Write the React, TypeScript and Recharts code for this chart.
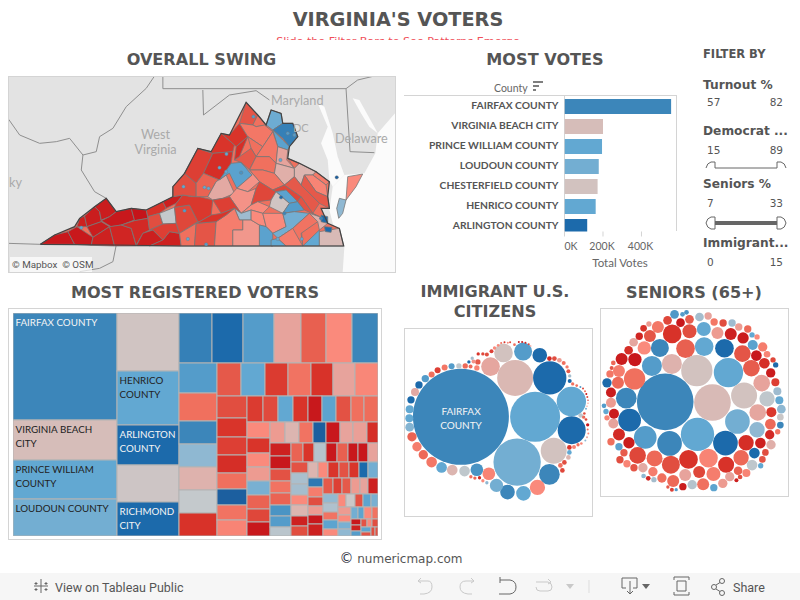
import React from 'react';
import { Bar, BarChart, Cell, Scatter, ScatterChart, Treemap, XAxis, YAxis, ZAxis, Rectangle } from 'recharts';

const HEAD = '"DejaVu Sans", sans-serif';
const BOOK = 'Lato, "Open Sans", sans-serif';

// most votes
const barCounties = ['FAIRFAX COUNTY', 'VIRGINIA BEACH CITY', 'PRINCE WILLIAM COUNTY', 'LOUDOUN COUNTY', 'CHESTERFIELD COUNTY', 'HENRICO COUNTY', 'ARLINGTON COUNTY'];
const barVotes = [554000, 200000, 195000, 178000, 172000, 162000, 118000];
const barSwing = [42, -5, 22, 19, -3, 22, 55];
const voteTicks = [0, 200000, 400000];

// registered voters, in the order the tiles are laid out
const treeSizes = [
  100453, 37320, 36387, 33899,
  32351, 30294, 22440, 20757, 19261,
  15049, 13857, 13857, 12218, 11026, 11771, 11175,
  10146, 9576, 7866, 7866, 7866, 7866, 7980,
  7252, 7154, 6958, 6762, 6468, 6566, 6174,
  5874, 5162, 4984, 4895, 4183, 4272, 4094, 4005,
  3822, 3432, 3588, 3432, 3276, 3354, 3432, 3120, 3276,
  3381, 3036, 2898, 2898, 2898, 2898, 2760, 2898,
  2752, 2688, 2688, 2496, 2624, 2496, 2560, 2496,
  2432, 2368, 2176, 2240, 2304, 2112, 2048, 2176,
  2052, 1881, 2052, 1824, 1938, 1710, 1653, 1767,
  1632, 1734, 1683, 1479, 1734, 1530, 1530,
  1392, 1488, 1584, 1392, 1440, 1296, 1488,
  1276, 1364, 1232, 1232, 1276, 1276,
  1457, 1269, 1363, 1316, 1128, 1269,
  1150, 1242, 1104, 1242, 1104,
  920, 1000, 960, 920, 1000,
  950, 760, 760, 836,
  770, 665, 840, 595,
  570, 510, 480,
  432, 360, 456,
  450, 390,
  336, 280,
];
const treeSwing = [
  42, -5, 22, 19,
  -2, 22, 55, -1, 55,
  45, 55, 28, -14, -33, -20, 42,
  28, -28, 42, 14, -9, 2, -46,
  -35, 22, -43, -27, -46, -14, -21,
  -38, -45, -42, -48, -28, 60, -27, -22,
  -43, -39, 22, -45, -58, 24, -37, -28, -29,
  -20, -45, -20, -16, 18, -32, -40, -58,
  -16, -8, -27, 60, -58, -14, -15, -48,
  -54, -58, -37, -27, -32, 32, 28, 4,
  -32, -45, 5, -58, -33, -58, -58, -14,
  -37, 7, 8, -20, -8, -54, -38,
  -8, -20, -45, -37, -45, 55, 19,
  48, -24, -38, -16, -58, -54,
  -35, -42, -35, -16, -14, -54,
  13, 6, -27, 24, -20,
  -20, 0, -37, 24, 18,
  -16, -20, 18, 14,
  19, 24, -20, -27,
  -58, -54, 28,
  -37, -20, -38,
  24, -37,
  -38, -37,
];
const treeLabels: Record<number, string[]> = {
  0: ['FAIRFAX COUNTY'],
  1: ['VIRGINIA BEACH', 'CITY'],
  2: ['PRINCE WILLIAM', 'COUNTY'],
  3: ['LOUDOUN COUNTY'],
  5: ['HENRICO', 'COUNTY'],
  6: ['ARLINGTON', 'COUNTY'],
  8: ['RICHMOND', 'CITY'],
};

// [x, y, radius, swing]
const immigrantBubbles = [
  [184,412,144,42],[407,412,75,22],[353,548,71,19],[347,295,54,-7],[451,295,50,55],[516,366,44,22],[517,452,42,55],[463,514,39,-3],
  [450,585,31,42],[414,624,23,-20],[372,642,22,22],[324,638,22,42],[291,618,20,19],[268,583,19,-22],[232,571,19,32],[195,575,16,3],
  [158,572,16,-8],[126,564,16,22],[96,548,16,-26],[71,526,14,-30],[52,502,14,-24],[37,472,14,-32],[30,443,13,16],[29,416,12,22],
  [30,389,12,22],[34,361,11,55],[46,337,12,-12],[58,316,11,55],[77,297,11,28],[96,285,9,-28],[114,272,9,-42],[135,264,9,-26],
  [156,260,9,28],[178,259,8,3],[197,259,8,-30],[213,261,6,-30],[232,265,8,-22],[273,261,28,-13],[312,220,28,-3],[371,216,27,28],
  [421,227,22,55],[235,247,8,-35],[222,246,6,-18],[208,247,5,55],[218,236,5,8],[236,223,5,-45],[250,223,5,-40],[262,225,6,-38],
  [276,215,6,-42],[285,205,5,-20],[296,197,4,-20],[305,190,3,-28],[315,188,3,-45],[325,189,3,-20],[332,188,3,-40],[345,195,4,-28],
  [358,187,3,-58],[368,187,3,-58],[378,189,3,-50],[388,194,3,-40],[394,199,2,-20],[450,237,7,-50],[465,237,7,-38],[480,242,7,-16],
  [493,250,6,-28],[503,262,5,-25],[507,275,6,-35],[511,289,5,8],[511,304,6,55],[520,313,5,-28],[532,318,4,-28],[543,322,3,28],
  [551,327,3,-40],[557,335,3,-28],[561,343,3,-58],[564,352,3,-40],[566,362,2,-58],[566,371,2,-20],[563,380,2,-20],[560,388,3,18],
  [544,408,7,3],[553,413,5,-30],[555,402,4,-38],[560,420,4,-40],[565,436,5,-58],[565,450,3,-28],[567,462,3,-20],[563,473,3,-14],
  [558,483,3,14],[546,492,4,-22],[536,496,5,-28],[524,503,6,-22],[510,504,7,-45],[510,519,7,22],[507,534,7,-8],[495,549,7,-38],
  [483,558,7,-28],[489,573,7,-40],[214,592,5,-28],[226,596,5,-30],[240,595,5,-48],[250,604,5,-20],[262,610,5,14],
];
const seniorBubbles = [
  [797,367,85,42],[939,369,55,-6],[892,273,47,-3],[987,279,44,22],[894,465,50,22],[1034,348,39,-3],[1014,426,37,19],[978,491,37,55],
  [810,492,37,42],[737,474,34,28],[690,422,34,55],[680,356,31,42],[705,298,32,-28],[757,259,30,28],[817,253,30,-9],[781,205,27,42],
  [734,205,20,-20],[858,207,28,-33],[914,201,28,22],[975,206,28,55],[1029,222,25,-36],[913,148,21,22],[954,160,18,-16],[818,163,28,-46],
  [870,155,21,-38],[1056,266,25,-34],[1087,311,25,-14],[1103,358,23,3],[1075,399,25,-13],[1073,451,23,14],[1040,490,23,-48],[1083,491,16,-54],
  [1065,521,16,55],[1025,535,23,-30],[980,556,24,-46],[927,536,28,-22],[867,540,28,-46],[814,556,27,-38],[765,537,24,-30],[714,528,25,-40],
  [688,490,17,-56],[658,465,18,-50],[641,432,15,-14],[643,403,15,-56],[634,370,15,-16],[634,339,15,-56],[622,310,14,55],[655,310,18,-30],
  [658,274,18,-24],[631,283,11,-26],[666,238,18,-56],[706,240,20,-58],[641,250,7,-30],[636,265,6,-36],[687,212,13,-48],[702,188,13,-13],
  [719,170,11,-52],[751,169,18,-36],[732,146,10,-46],[748,133,8,-16],[775,142,18,-26],[804,122,13,-40],[825,104,13,30],[849,104,7,28],
  [861,98,7,32],[843,129,13,-58],[870,119,13,-34],[900,112,13,8],[926,109,11,-14],[944,127,11,-26],[971,130,11,-38],[998,130,11,10],
  [1018,142,11,-16],[1045,148,11,-30],[994,163,18,-54],[1031,175,17,-56],[1058,166,8,22],[1073,172,8,-20],[1060,196,15,25],[1090,202,14,-24],
  [1103,224,10,-22],[1071,228,16,-58],[1095,251,16,-48],[1121,241,8,-40],[1129,256,8,55],[1114,280,14,-56],[1128,308,12,-42],[1134,335,12,10],
  [1140,362,12,22],[1146,389,13,14],[1116,398,15,-44],[1143,413,10,0],[1143,437,10,42],[1113,434,16,-30],[1135,457,8,-26],[1111,466,14,-50],
  [1115,496,14,-10],[1098,519,10,-38],[1089,540,10,-36],[1084,559,8,22],[1058,557,16,3],[1041,581,12,-22],[1016,574,13,-32],[1022,593,7,-38],
  [991,592,14,-14],[1011,603,6,-55],[970,612,14,-16],[943,625,11,24],[911,615,18,-28],[942,584,21,-24],[899,578,18,-40],[857,587,18,-14],
  [878,616,14,5],[850,622,11,-56],[821,605,18,-30],[805,623,5,-35],[817,631,6,-42],[830,631,5,28],[787,596,14,-28],[763,601,8,8],
  [746,597,7,-52],[732,590,7,14],[760,577,14,-24],[730,565,14,-12],[703,565,11,-36],[682,553,11,-22],[661,541,11,-38],[673,520,11,-34],
  [658,502,11,25],[634,487,11,-28],[622,415,8,-22],[619,396,8,22],[613,379,7,28],
];

// state and county outlines on the map, flat x,y lists
const stateShape = [
  122,733,165,705,225,680,240,655,285,620,320,595,350,635,395,625,440,630,490,605,520,590,520,560,555,520,595,445,635,455,665,400,690,405,
  740,307,775,345,800,375,815,330,845,340,850,370,880,370,895,410,870,440,865,475,900,490,950,515,990,545,985,590,990,625,965,625,985,670,
  1020,685,1033,738,545,738,350,735,
];
const countyShapes: number[][] = [
  [122,733,165,705,205,695,225,733],
  [205,695,232,680,280,712,275,736,225,733],
  [232,680,240,655,255,648,262,680],
  [255,648,285,620,300,635,305,665,262,680],
  [285,620,320,595,350,635,330,650,305,660,300,635],
  [262,680,305,665,330,680,280,712],
  [330,650,350,635,395,625,405,660,365,675,335,680,305,662],
  [395,625,440,630,445,655,405,662],
  [280,712,330,680,345,738,275,736],
  [330,680,365,675,395,685,410,738,345,738],
  [365,675,405,662,445,655,450,690,430,700,410,735,395,685],
  [410,738,430,700,460,690,490,720,450,738],
  [450,738,490,720,510,695,540,700,545,738],
  [440,630,490,605,500,625,480,640,445,650],
  [490,605,520,590,550,585,530,610,500,625],
  [445,650,480,640,490,672,450,690],
  [480,640,525,622,530,670,490,672],
  [490,672,530,670,540,700,510,695,490,720,460,690,450,690],
  [525,622,570,615,595,665,540,700,530,670],
  [540,700,590,670,585,738,545,738],
  [590,670,650,665,645,738,585,738],
  [550,585,575,590,600,590,640,600,635,645,600,665,595,665,570,615,525,622,530,610],
  [520,560,555,520,590,550,590,590,550,585,520,590],
  [555,520,595,445,640,460,612,520,590,550],
  [595,445,635,455,665,400,705,435,700,455,640,460],
  [640,460,700,455,695,490,660,540,612,520],
  [612,520,660,540,650,545,625,590,590,590,590,550],
  [650,545,680,525,705,580,670,595,640,600,625,590],
  [695,490,725,487,758,525,712,565,690,520,680,525,660,540],
  [665,400,690,405,720,370,745,410,710,440,705,435],
  [720,370,740,307,775,345,760,375],
  [775,345,800,375,770,380,760,375],
  [760,375,770,380,795,375,820,395,790,440,745,410,720,370],
  [745,410,720,470,705,480,710,440],
  [745,410,790,440,770,470,755,445],
  [800,375,815,330,845,340,850,370,820,390],
  [850,370,880,370,895,410,870,440,850,415,820,390],
  [820,390,850,420,870,440,865,450,835,440],
  [790,440,820,395,835,440,830,490,810,470,770,470],
  [705,480,720,470,755,445,770,470,750,510,725,487],
  [770,470,810,470,830,490,825,520,790,510,750,510],
  [835,440,865,450,862,480,885,505,830,490],
  [865,475,900,490,885,505],
  [830,490,885,505,885,530,855,555,825,520],
  [885,505,900,490,950,515,940,525,915,525,905,555,885,530],
  [950,515,990,545,980,555,940,525],
  [915,525,940,525,980,555,985,590,950,575],
  [905,555,915,525,950,575,985,590,990,625,960,610],
  [750,510,790,510,825,520,855,555,820,570,780,545],
  [725,487,750,510,780,545,745,575,712,565,758,525],
  [712,565,745,575,770,565,755,615,725,640,690,590],
  [670,595,690,590,725,640,705,625,665,640,640,600],
  [820,570,855,555,905,590,890,610,860,570,830,575],
  [855,555,885,530,905,555,960,610,940,640,905,590],
  [770,565,780,545,820,570,830,575,815,600,775,605,755,615],
  [815,600,830,575,870,610,850,640,810,620],
  [830,575,860,570,895,605,870,610],
  [870,610,895,605,915,630,885,635,850,640],
  [895,605,905,590,940,640,960,650,915,630],
  [725,640,755,615,775,605,810,620,790,640,755,630],
  [705,625,725,640,755,630,755,660,720,660],
  [650,665,680,645,705,625,720,660,730,660,730,690,700,690,700,738,645,738],
  [700,690,730,690,730,660,755,660,780,675,780,738,700,738],
  [755,630,790,640,800,680,780,675,755,660],
  [790,640,850,640,860,680,820,700,800,680],
  [780,675,800,680,820,700,820,738,780,738],
  [820,700,860,680,850,640,885,635,930,640,880,685,835,715],
  [815,720,835,715,860,738,815,738],
  [835,715,880,685,905,680,910,738,860,738],
  [880,685,930,640,955,665,905,700,910,738],
  [910,738,960,690,960,738],
  [960,695,1020,685,1033,738,960,738],
  [930,640,960,650,985,670,960,690,955,665],
  [600,665,635,645,665,640,705,625,680,645,650,665,590,670],
  [965,645,985,650,985,670,965,665],
  [975,680,998,682,995,697,978,695],
  [1045,530,1090,522,1070,560,1040,600],
  [1020,595,1040,600,1030,640,1018,655,1012,625],
];
const countySwing = [
  -58,-58,-54,-56,-56,-56,-58,-60,-54,-52,-50,-55,-54,-46,-55,-38,2,-42,-40,-28,-36,-44,-38,-42,
  -45,-48,-32,-12,25,-45,-36,-28,-26,-48,-28,20,45,25,-26,-35,-28,-14,-28,-10,-8,-25,-22,-35,-27,
  -18,-18,-42,-40,-35,-40,-2,25,28,-37,-20,10,-24,-17,-20,-20,25,19,22,-24,-27,22,-6,-10,-45,55,55,-20,14,
];
const cityDots = [
  [762,350,28],[865,400,28],[885,405,28],[681,462,22],[660,503,22],[680,515,22],[725,518,32],[552,560,22],[615,562,22],[627,565,22],
  [555,632,28],[845,592,55],[855,640,42],[965,655,42],[245,683,22],[835,717,22],[907,717,22],[565,717,22],[620,733,28],[1012,532,60],[843,480,22],
];
const waterShapes: number[][] = [
  [1187,340,1135,400,1128,460,1095,520,1035,525,1000,560,990,630,1000,670,1035,740,1030,816,1187,816],
  [955,310,975,320,1000,400,1015,470,1035,525,1000,560,990,540,985,480,965,430,985,380],
  [1060,295,1080,300,1130,390,1135,400,1110,380,1085,340],
];
const borderLines: number[][] = [
  [27,358,60,405,120,430,170,425,210,415,250,465,290,455,300,410,340,385,380,320,440,265,465,228],
  [250,465,245,510,285,575,320,595],
  [490,228,490,266,1040,266,1052,455,1125,458],
  [610,270,612,345,690,285,770,272,810,300],
  [1040,266,1075,240,1125,228],
  [25,730,122,733],
  [350,735,340,785,300,805,240,815],
];

const swingStops: [number, string][] = [
  [-60, '#c5141a'], [-45, '#d9342a'], [-35, '#e5594a'], [-28, '#f0705e'], [-20, '#fa8a7c'], [-14, '#e7a39c'], [-8, '#dcb5b0'],
  [-2, '#d0c4c2'], [2, '#c4c9cc'], [8, '#a5bdcd'], [14, '#8fb8d2'], [22, '#62a8d2'], [32, '#4a94c4'], [42, '#3c86ba'], [55, '#1c6aab'], [60, '#1c5f9f'],
];
function swingColor(v: number) {
  if (v <= swingStops[0][0]) return swingStops[0][1];
  for (let i = 1; i < swingStops.length; i++) {
    const [b, cb] = swingStops[i];
    const [a, ca] = swingStops[i - 1];
    if (v <= b) {
      const t = (v - a) / (b - a);
      const mix = [1, 3, 5].map(k => {
        const p = parseInt(ca.slice(k, k + 2), 16);
        const q = parseInt(cb.slice(k, k + 2), 16);
        return Math.round(p + (q - p) * t);
      });
      return `rgb(${mix.join(',')})`;
    }
  }
  return swingStops[swingStops.length - 1][1];
}

const barData = barCounties.map((name, i) => ({ name, votes: barVotes[i], swing: barSwing[i] }));
const treeData = treeSizes.map((size, i) => ({ name: String(i), size, swing: treeSwing[i], label: treeLabels[i] }));
const cityData = cityDots.map(([x, y, swing]) => ({ x, y, swing }));
const toPoints = (flat: number[], close = true) => {
  const pts = [];
  for (let i = 0; i < flat.length; i += 2) pts.push({ x: flat[i], y: flat[i + 1] });
  if (close) pts.push(pts[0]);
  return pts;
};
const bubbleRows = (rows: number[][]) => rows.map(([x, y, r, swing]) => ({ x, y, z: r * r, swing }));

const noDot = () => <g />;
const cityDot = (p: any) => <circle cx={p.cx} cy={p.cy} r={1.7} fill={swingColor(p.payload.swing)} stroke="#777" strokeWidth={0.4} />;

function Txt({ x, y, w, align = 'left', size = 12, weight = 400, color = '#555', font = HEAD, children }: any) {
  return (
    <div style={{ position: 'absolute', left: x, top: y - size, width: w, height: size * 2, lineHeight: `${size * 2}px`, textAlign: align, fontSize: size, fontWeight: weight, color, fontFamily: font, whiteSpace: 'nowrap' }}>
      {children}
    </div>
  );
}

function TreeCell(props: any) {
  const { x, y, width, height, swing, label, depth } = props;
  if (depth === 0 || swing === undefined) return <g />;
  const light = swing > 40;
  return (
    <g>
      <rect x={x} y={y} width={width} height={height} fill={swingColor(swing)} stroke="#b3b3b3" strokeWidth={1} />
      {(label || []).map((line: string, i: number) => (
        <text key={line} x={x + 2.5} y={y + 13 + i * 14} fontSize={9.8} fontFamily={BOOK} fill={light ? '#f4f4f4' : '#222'} stroke="none">
          {line}
        </text>
      ))}
    </g>
  );
}

function CountyTick({ y, payload }: any) {
  return (
    <text x={158.5} y={y + 2.5} textAnchor="end" fontSize={10.3} fontFamily={BOOK} fontWeight={700} fill="#555">
      {payload.value}
    </text>
  );
}

function VoteTick({ x, y, payload }: any) {
  return (
    <text x={payload.value === 0 ? x + 6.5 : x - 1} y={y + 11} textAnchor="middle" fontSize={10.5} fontFamily={BOOK} fill="#666">
      {`${payload.value / 1000}K`}
    </text>
  );
}

function BubblePack({ rows, box }: { rows: number[][]; box: [number, number] }) {
  const data = bubbleRows(rows);
  return (
    <div style={{ position: 'absolute', left: -1, top: -1 }}>
      <ScatterChart width={187} height={187} margin={{ top: 0, right: 0, bottom: 0, left: 0 }}>
        <XAxis type="number" dataKey="x" hide domain={[box[0], box[0] + 562]} />
        <YAxis type="number" dataKey="y" hide reversed domain={[box[1], box[1] + 562]} />
        <ZAxis type="number" dataKey="z" domain={[0, 21000]} range={[0, 7330]} />
        <Scatter data={data} isAnimationActive={false}>
          {data.map((d, i) => <Cell key={i} fill={swingColor(d.swing)} />)}
        </Scatter>
      </ScatterChart>
    </div>
  );
}

function Slider({ y, thick }: { y: number; thick?: boolean }) {
  return (
    <svg style={{ position: 'absolute', left: 704, top: y - 8, overflow: 'visible' }} width={84} height={14}>
      <line x1={11} x2={73} y1={7} y2={7} stroke="#666" strokeWidth={thick ? 4 : 1} />
      <path d="M11 7 V1 H7 Q3 2 2 7" fill="none" stroke="#666" />
      <path d="M73 7 V1 H77 Q81 2 82 7" fill="none" stroke="#666" />
      {thick && <path d="M2 7 Q3 12 7 13 H11 V7 M82 7 Q81 12 77 13 H73 V7" fill="none" stroke="#666" />}
    </svg>
  );
}

function Toolbar() {
  const s = { fill: 'none', stroke: '#c9c9c9', strokeWidth: 1 };
  const d = { fill: 'none', stroke: '#666', strokeWidth: 1 };
  return (
    <div style={{ position: 'absolute', left: 0, top: 573, width: 800, height: 27, background: '#f6f6f6' }}>
      <svg width={800} height={27} style={{ position: 'absolute', left: 0, top: 0 }}>
        <g stroke="#666" strokeWidth={1}>
          <path d="M41 6 V20 M34 13 H48 M36 9 V12 M34.5 10.5 H37.5 M46 9 V12 M44.5 10.5 H47.5 M36 15 V18 M34.5 16.5 H37.5 M46 15 V18 M44.5 16.5 H47.5" />
        </g>
        <path d="M421 5 L418 8 L421 10 M418 8 H428 Q432 8 432 14 Q432 20 424 21 H420" {...s} />
        <path d="M471 5 L474 8 L471 10 M474 8 H466 Q460 8 460 14 Q460 20 468 21 H472" {...s} />
        <path d="M500 4 V10 M500 7 H510 Q516 8 516 14 Q516 20 510 21 H499" {...d} />
        <path d="M536 9 H548 Q552 10 552 14 Q552 18 548 18 H540 Q536 18 536 14 M548 6 L551 9 L548 11" {...s} />
        <path d="M566 11 H574 L570 16 Z" fill="#c9c9c9" />
        <line x1={589} x2={589} y1={7} y2={20} stroke="#ddd" />
        <path d="M622 5 H637 V15 H633 M626 15 H622 V5 M630 8 V21 M627 18 L630 21 L633 18" {...d} />
        <path d="M642 11 H650 L646 16 Z" fill="#666" />
        <path d="M674 7 V4 H689 V7 M674 19 V22 H689 V19 M677 8 H686 V18 H677 Z" {...d} />
        <circle cx={714} cy={14} r={2.5} {...d} />
        <circle cx={722} cy={8} r={2.5} {...d} />
        <circle cx={722} cy={20} r={2.5} {...d} />
        <path d="M716 12 L720 9.5 M716 16 L720 18.5" {...d} />
      </svg>
      <Txt x={55} y={14} size={12.5} color="#555" font="Roboto">View on Tableau Public</Txt>
      <Txt x={733} y={14} size={12.5} color="#555" font="Roboto">Share</Txt>
    </div>
  );
}

export default function App() {
  return (
    <div style={{ position: 'absolute', left: 0, top: 0, width: 800, height: 600, background: '#fff', overflow: 'hidden' }}>
      <Txt x={0} y={20} w={796} align="center" size={19.3} weight={700}>VIRGINIA'S VOTERS</Txt>
      <div style={{ position: 'absolute', left: 0, top: 30, width: 800, height: 9.5, overflow: 'hidden' }}>
        <div style={{ position: 'absolute', left: 0, top: 5, width: 796, textAlign: 'center', fontSize: 11.15, lineHeight: '14px', color: '#f0505a', fontFamily: HEAD }}>
          Slide the Filter Bars to See Patterns Emerge
        </div>
      </div>

      <Txt x={0} y={60} w={403} align="center" size={16.1} weight={700}>OVERALL SWING</Txt>
      <div style={{ position: 'absolute', left: 8, top: 75.5, width: 386, height: 195, border: '1px solid #d4d4d4', background: '#e3e3e3', overflow: 'hidden' }}>
        <div style={{ position: 'absolute', left: -1, top: -1 }}>
          <ScatterChart width={387} height={196} margin={{ top: 0, right: 0, bottom: 0, left: 0 }}>
            <XAxis type="number" dataKey="x" hide domain={[25, 1187]} allowDataOverflow />
            <YAxis type="number" dataKey="y" hide reversed domain={[228, 816]} allowDataOverflow />
            {waterShapes.map((shape, i) => (
              <Scatter key={`w${i}`} data={toPoints(shape)} shape={noDot} line={{ fill: '#fbfbfb', stroke: 'none' }} isAnimationActive={false} />
            ))}
            {borderLines.map((shape, i) => (
              <Scatter key={`b${i}`} data={toPoints(shape, false)} shape={noDot} line={{ fill: 'none', stroke: '#8f8f8f', strokeWidth: 1 }} isAnimationActive={false} />
            ))}
            <Scatter data={toPoints(stateShape)} shape={noDot} line={{ fill: swingColor(-28), stroke: 'none' }} isAnimationActive={false} />
            {countyShapes.map((shape, i) => (
              <Scatter key={`c${i}`} data={toPoints(shape)} shape={noDot} line={{ fill: swingColor(countySwing[i]), stroke: '#777', strokeWidth: 0.8 }} isAnimationActive={false} />
            ))}
            <Scatter data={toPoints(stateShape)} shape={noDot} line={{ fill: 'none', stroke: '#444', strokeWidth: 1.2 }} isAnimationActive={false} />
            <Scatter data={cityData} shape={cityDot} isAnimationActive={false} />
          </ScatterChart>
        </div>
        <Txt x={262} y={24} size={12.7} color="#aaa" font={BOOK}>Maryland</Txt>
        <Txt x={284} y={51} size={11} color="#aaa" font={BOOK}>DC</Txt>
        <Txt x={326} y={62} size={12.7} color="#aaa" font={BOOK}>Delaware</Txt>
        <div style={{ position: 'absolute', left: 121.5, top: 50, width: 50, textAlign: 'center', fontSize: 12.7, lineHeight: '15px', color: '#aaa', fontFamily: BOOK }}>
          West<br />Virginia
        </div>
        <Txt x={0} y={106} size={12.7} color="#aaa" font={BOOK}>ky</Txt>
        <div style={{ position: 'absolute', left: 1, top: 180, width: 82, height: 15, background: 'rgba(255,255,255,0.7)' }} />
        <Txt x={3} y={188} size={9.8} color="#555" font="Roboto">© Mapbox&nbsp; © OSM</Txt>
      </div>

      <Txt x={345} y={60} w={400} align="center" size={16.1} weight={700}>MOST VOTES</Txt>
      <Txt x={494} y={88} size={10.5} color="#666" font={BOOK}>County</Txt>
      <svg style={{ position: 'absolute', left: 532, top: 80 }} width={12} height={12}>
        <path d="M1 2 H11 M1 6 H7 M1 10 H4" stroke="#555" strokeWidth={1.6} />
      </svg>
      <div style={{ position: 'absolute', left: 404, top: 95, width: 273, height: 1, background: '#d4d4d4' }} />
      <div style={{ position: 'absolute', left: 676, top: 95, width: 1, height: 136, background: '#d4d4d4' }} />
      <div style={{ position: 'absolute', left: 564, top: 95, width: 1, height: 141, background: '#d4d4d4' }} />
      <div style={{ position: 'absolute', left: 400, top: 95.5 }}>
        <BarChart width={280} height={170} layout="vertical" data={barData} margin={{ top: 0, right: 3.3, bottom: 0, left: 0 }}>
          <XAxis type="number" height={34.5} domain={[0, 583000]} ticks={voteTicks} interval={0} allowDataOverflow axisLine={false} tickLine={{ stroke: '#d4d4d4' }} tickSize={5} tick={<VoteTick />} />
          <YAxis type="category" dataKey="name" width={164.5} axisLine={false} tickLine={false} interval={0} padding={{ top: 0, bottom: -4.5 }} tick={<CountyTick />} />
          <Bar dataKey="votes" barSize={15} isAnimationActive={false}
            shape={(p: any) => <Rectangle x={p.x} y={p.y} width={p.width} height={Math.min(p.height, 135.5 - p.y)} fill={swingColor(p.payload.swing)} />} />
        </BarChart>
      </div>
      <Txt x={570} y={262} w={100} align="center" size={11.5} color="#666" font={BOOK}>Total Votes</Txt>

      <Txt x={703} y={54} size={11.5} weight={700}>FILTER BY</Txt>
      <Txt x={703} y={85} size={12.2} weight={700}>Turnout %</Txt>
      <Txt x={707} y={102} size={10.5}>57</Txt>
      <Txt x={683} y={102} w={100} align="right" size={10.5}>82</Txt>
      <Txt x={703} y={131.5} size={12.2} weight={700}>Democrat ...</Txt>
      <Txt x={707} y={150} size={10.5}>15</Txt>
      <Txt x={683} y={150} w={100} align="right" size={10.5}>89</Txt>
      <Slider y={169} />
      <Txt x={703} y={184.5} size={12.2} weight={700}>Seniors %</Txt>
      <Txt x={707} y={203} size={10.5}>7</Txt>
      <Txt x={683} y={203} w={100} align="right" size={10.5}>33</Txt>
      <Slider y={223.7} thick />
      <Txt x={703} y={243.5} size={12.2} weight={700}>Immigrant...</Txt>
      <Txt x={707} y={262} size={10.5}>0</Txt>
      <Txt x={683} y={262} w={100} align="right" size={10.5}>15</Txt>

      <Txt x={0} y={293} w={390} align="center" size={16.1} weight={700}>MOST REGISTERED VOTERS</Txt>
      <div style={{ position: 'absolute', left: 8, top: 308, width: 372, height: 230, border: '1px solid #d4d4d4' }} />
      <div style={{ position: 'absolute', left: 12.5, top: 312.5 }}>
        <Treemap width={365} height={223} data={treeData} dataKey="size" type="flat" isAnimationActive={false} isUpdateAnimationActive={false} content={<TreeCell />} />
      </div>

      <div style={{ position: 'absolute', left: 395, top: 282, width: 200, textAlign: 'center', fontSize: 16.1, lineHeight: '20px', fontWeight: 700, color: '#555', fontFamily: HEAD }}>
        IMMIGRANT U.S.<br />CITIZENS
      </div>
      <div style={{ position: 'absolute', left: 404, top: 328, width: 187, height: 187, border: '1px solid #d4d4d4' }}>
        <BubblePack rows={immigrantBubbles} box={[13, 145]} />
        <div style={{ position: 'absolute', left: 21, top: 75, width: 70, textAlign: 'center', fontSize: 10, lineHeight: '14px', color: '#f4f4f4', fontFamily: BOOK }}>
          FAIRFAX<br />COUNTY
        </div>
      </div>

      <Txt x={594} y={293} w={200} align="center" size={16.1} weight={700}>SENIORS (65+)</Txt>
      <div style={{ position: 'absolute', left: 600, top: 308, width: 187, height: 187, border: '1px solid #d4d4d4' }}>
        <BubblePack rows={seniorBubbles} box={[601, 85]} />
      </div>

      <Txt x={0} y={558} w={802} align="center" size={12} color="#555" font={HEAD}>
        <span style={{ color: '#334', fontSize: 14 }}>©</span> numericmap.com
      </Txt>
      <Toolbar />
    </div>
  );
}
